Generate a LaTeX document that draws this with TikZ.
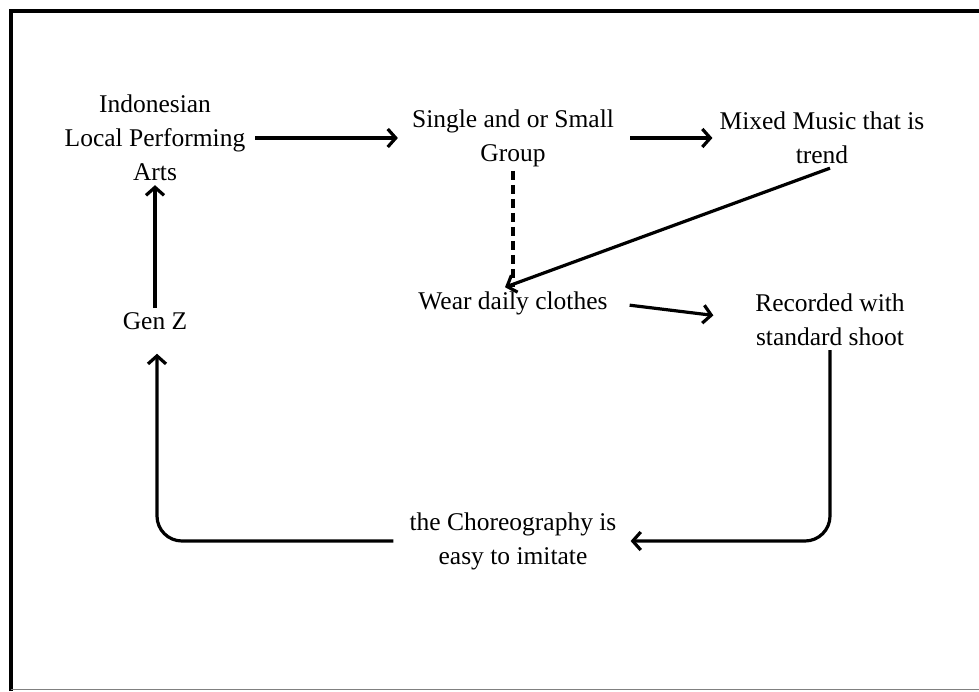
\documentclass[tikz,border=0pt]{standalone}
\usepackage{fontspec}
\setmainfont{Liberation Serif}
\usetikzlibrary{arrows.meta}

\tikzset{
	stage/.style={align=center, font=\fontsize{25.5}{34}\selectfont, inner sep=4pt},
	flow/.style={line width=3.2pt, -{Straight Barb[length=8pt,width=18pt]}},
}

\begin{document}
\begin{tikzpicture}[x=1pt,y=-1pt]
		\useasboundingbox (0,0) rectangle (979,691);

		% frame
		\draw[line width=4pt] (10.5,691) -- (10.5,10.5) -- (979,10.5);
		\draw[gray, line width=1.2pt] (10.5,689.5) -- (979,689.5);

		\node[stage] (arts) at (155,138) {Indonesian\\Local Performing\\Arts};
		\node[stage] (group) at (513,138) {Single and or Small\\Group};
		\node[stage] (music) at (822,138) {Mixed Music that is\\trend};
		\node[stage] (clothes) at (513,303) {Wear daily clothes};
		\node[stage] (shoot) at (830,320) {Recorded with\\standard shoot};
		\node[stage] (genz) at (155,321) {Gen Z};
		\node[stage] (choreo) at (513,541) {the Choreography is\\easy to imitate};

		\draw[flow, shorten <=6pt, shorten >=10pt] (arts.east) -- (group.west);
		\draw[flow, shorten <=12pt, shorten >=3pt] (group.east) -- (music.west);
		\draw[line width=3.2pt, dash pattern=on 9pt off 5pt] (group.south) -- (clothes.north);
		\draw[flow] ([xshift=8pt]music.south) -- ([xshift=-8pt]clothes.north);
		\draw[flow, shorten <=18pt, shorten >=38pt] (clothes.east) -- (shoot.west);
		\draw[flow, rounded corners=25pt] (shoot.south) |- ([xshift=10pt]choreo.east);
		\draw[flow, rounded corners=25pt] ([xshift=-12pt]choreo.west) -| ([xshift=2pt,yshift=-20pt]genz.south);
		\draw[flow] (genz.north) -- (arts.south);
\end{tikzpicture}
\end{document}
